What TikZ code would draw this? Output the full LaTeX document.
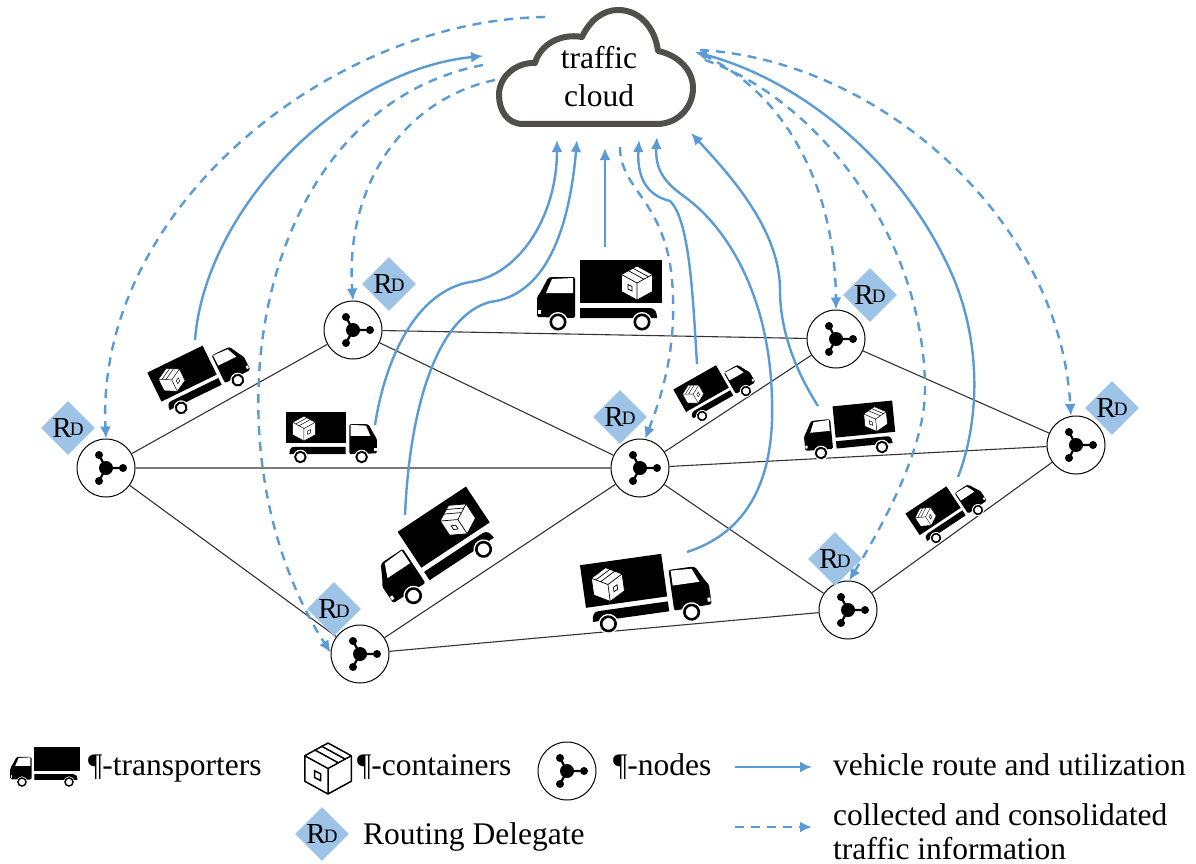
\documentclass[tikz,border=0pt]{standalone}
\usepackage{fontspec}
\setmainfont{Liberation Serif}
\usetikzlibrary{arrows.meta,shapes.geometric}
\definecolor{routeblue}{HTML}{5B9BD5}
\definecolor{rdblue}{HTML}{9DC3E6}
\definecolor{cloudgrey}{HTML}{504F4A}
\definecolor{edgegrey}{HTML}{333333}
\newcommand\boxicon[1]{%
  \filldraw[fill=white,draw=black,line width=#1,line join=round]
    (0,-17)--(15.5,-8.5)--(15.5,8.5)--(0,17)--(-15.5,8.5)--(-15.5,-8.5)--cycle;
  \draw[line width=#1,line join=round] (-15.5,-8.5)--(0,0)--(15.5,-8.5) (0,0)--(0,17)
    (-9,-12.5)--(6.5,-4) (-4.5,-15)--(11,-6.5);
  \draw[line width=#1] (-9,1.5)--(-5,3.5)--(-5,8)--(-9,6)--cycle;
}
\newcommand\lorry[7]{%
  \coordinate (#1) at (#2,#3);
  \begin{scope}[shift={(#2,#3)},rotate=#4,scale=#5,xscale=#6,shift={(-80,-72)}]
    \fill[black] (60,10) rectangle (142,53);
    \fill[black] (60,58)--(130,58)..controls (135,58) and (137,62)..(137,68)--(60,68)--cycle;
    \fill[black,rounded corners=1.5] (17,67)--(17,47)--(20,43)--(28,28)--(31,27)--(55,27)--(55,68)--cycle;
    \fill[white] (26,43)--(32,29)--(53,28)--(53,43)--cycle;
    \fill[white] (17.5,60) rectangle (20.5,64);
    \fill[white] (38,72) circle (10) (122,72) circle (10);
    \filldraw[fill=white,draw=black,line width=2.6pt*#5] (38,72) circle (7.2) (122,72) circle (7.2);
    \begin{scope}[shift={(117,33)}] #7 \end{scope}
  \end{scope}
}
\newcommand\rdlabel{{\fontsize{29}{29}\selectfont R}\kern-2pt\raisebox{1.5pt}{\fontsize{19}{19}\selectfont D}}
\tikzset{
  hubnode/.style={circle,draw=black,fill=white,line width=1pt,minimum size=58pt,inner sep=0pt,
    path picture={\begin{scope}[shift={(path picture bounding box.center)}]
      \draw[black,line width=2.2pt] (-7,-13)--(0,0)--(17,0) (-7,13)--(0,0);
      \fill[black] (0,0) circle (7) (-7,-13) circle (4) (-7,13) circle (4) (17,0) circle (4);
    \end{scope}}},
  rdnode/.style={diamond,aspect=1,fill=rdblue,inner sep=0pt,minimum width=54pt,minimum height=54pt,text=black},
  edgeline/.style={edgegrey,line width=1.1pt},
  route/.style={routeblue,line width=2.4pt,-{Latex[length=12pt,width=11pt]}},
  info/.style={route,dash pattern=on 9pt off 7pt},
  cloudline/.style={cloudgrey,line width=6pt,line join=round},
  txt/.style={inner sep=0pt,anchor=base west,font=\fontsize{31.5}{31.5}\selectfont,text=black},
  cloudtxt/.style={inner sep=0pt,anchor=base,font=\fontsize{31.5}{31.5}\selectfont,text=black},
}
\begin{document}
\begin{tikzpicture}[x=1pt,y=-1pt]
\useasboundingbox (0,0) rectangle (1196,864);
\fill[white] (0,0) rectangle (1196,864);
% nodes
\node[hubnode] (A) at (106,468) {};
\node[hubnode] (B) at (353,330) {};
\node[hubnode] (C) at (836,339) {};
\node[hubnode] (D) at (640,468) {};
\node[hubnode] (E) at (1076,445) {};
\node[hubnode] (F) at (360,654) {};
\node[hubnode] (G) at (848,610) {};
% edges
\draw[edgeline] (A)--(B) (A)--(D) (A)--(F) (B)--(C) (B)--(D) (D)--(C) (D)--(E) (D)--(F) (D)--(G) (C)--(E) (E)--(G) (F)--(G);
% trucks
\lorry{t1}{600}{322}{0}{1}{1}{\boxicon{.7pt}}
\lorry{t2}{209.5}{394}{26}{.75}{-1}{\boxicon{.5pt}}
\lorry{t3}{331}{457}{0}{.73}{-1}{\boxicon{.5pt}}
\lorry{t4}{448.5}{572.5}{33.5}{1}{1}{\boxicon{.7pt}}
\lorry{t5}{650}{618}{8}{1}{-1}{\boxicon{.7pt}}
\lorry{t6}{724}{403.5}{29.6}{.6}{-1}{\boxicon{.4pt}}
\lorry{t7}{851.5}{450}{5.6}{.73}{1}{\boxicon{.5pt}}
\lorry{t8}{957}{524}{33.7}{.6}{-1}{\boxicon{.4pt}}
% cloud
\draw[cloudline,fill=white] (523,124) .. controls (507,124) and (499,110) .. (499,95)
  .. controls (499,75) and (518,62) .. (535,63)
  .. controls (540,45) and (560,33) .. (582,37)
  .. controls (590,20) and (603,10) .. (618,10)
  .. controls (640,10) and (655,28) .. (658,51)
  .. controls (678,55) and (693,70) .. (693,88)
  .. controls (693,108) and (677,124) .. (657,124) -- cycle;
\node[cloudtxt] (cloudA) at (599,69) {traffic};
\node[cloudtxt] (cloudB) at (599,107) {cloud};
% route ends
\coordinate (s1a) at (195,340); \coordinate (s1b) at (483,56);
\coordinate (s2a) at (375,425); \coordinate (s2b) at (557,140);
\coordinate (s3a) at (405,515); \coordinate (s3b) at (577,140);
\coordinate (s4a) at (605,247); \coordinate (s4b) at (605,148);
\coordinate (s5a) at (697,364); \coordinate (s5b) at (639,140);
\coordinate (s6a) at (687,552); \coordinate (s6b) at (657,137);
\coordinate (s7a) at (818,406); \coordinate (s7b) at (691,133);
\coordinate (s8a) at (958,477); \coordinate (s8b) at (695,52);
\draw[route] (s1a) .. controls (205,210) and (340,70) .. (s1b);
\draw[route] (s2a) .. controls (385,360) and (415,292) .. (470,282) .. controls (520,275) and (557,215) .. (s2b);
\draw[route] (s3a) .. controls (410,400) and (440,315) .. (490,302) .. controls (550,295) and (570,220) .. (s3b);
\draw[route] (s4a) -- (s4b);
\draw[route] (s5a) .. controls (693,300) and (690,220) .. (670,201) .. controls (645,195) and (637,175) .. (s5b);
\draw[route] (s6a) .. controls (740,535) and (775,490) .. (772,400) .. controls (770,300) and (730,230) .. (685,197) .. controls (665,183) and (655,170) .. (s6b);
\draw[route] (s7a) .. controls (795,370) and (780,330) .. (780,290) .. controls (780,230) and (730,175) .. (s7b);
\draw[route] (s8a) .. controls (980,420) and (982,340) .. (950,270) .. controls (900,160) and (800,80) .. (s8b);
% information
\coordinate (d1a) at (545,17); \coordinate (d2a) at (483,65); \coordinate (d3a) at (495,80);
\coordinate (d4a) at (620,147); \coordinate (d5a) at (703,55); \coordinate (d6a) at (700,50); \coordinate (d7a) at (705,60);
\draw[info] (d1a) .. controls (330,20) and (95,210) .. (A.north);
\draw[info] (d2a) .. controls (250,110) and (200,450) .. (F.177);
\draw[info] (d3a) .. controls (400,100) and (345,190) .. (B.north);
\draw[info] (d4a) .. controls (620,190) and (665,200) .. (672,280) .. controls (678,350) and (660,400) .. (D.80);
\draw[info] (d5a) .. controls (780,90) and (835,180) .. (C.north);
\draw[info] (d6a) .. controls (880,60) and (1060,220) .. (E.100);
\draw[info] (d7a) .. controls (820,100) and (925,240) .. (925,390) .. controls (925,450) and (880,530) .. (G.88);
% routing delegates
\node[rdnode] (r1) at (68,428) {\rdlabel};
\node[rdnode] (r2) at (389,284) {\rdlabel};
\node[rdnode] (r3) at (870,295) {\rdlabel};
\node[rdnode] (r4) at (620,417) {\rdlabel};
\node[rdnode] (r5) at (1112,408) {\rdlabel};
\node[rdnode] (r6) at (334,609) {\rdlabel};
\node[rdnode] (r7) at (835,559) {\rdlabel};
% legend
\lorry{l1}{45.5}{782}{0}{.56}{1}{}
\node[txt] (l1t) at (88,775) {¶-transporters};
\begin{scope}[shift={(328,768.5)},scale=1.5] \boxicon{1.5pt} \end{scope}
\node[txt] (l2t) at (357,775) {¶-containers};
\node[hubnode] (l3) at (567,771) {};
\node[txt] (l3t) at (613,775) {¶-nodes};
\coordinate (l4a) at (735,767); \coordinate (l4b) at (812,767);
\draw[route] (l4a) -- (l4b);
\node[txt] (l4t) at (833,775) {vehicle route and utilization};
\node[rdnode] (l5) at (322,834) {\rdlabel};
\node[txt] (l5t) at (363,844) {Routing Delegate};
\coordinate (l6a) at (735,827); \coordinate (l6b) at (812,827);
\draw[info] (l6a) -- (l6b);
\node[txt] (l6t) at (833,825) {collected and consolidated};
\node[txt] (l7t) at (833,859) {traffic information};
\end{tikzpicture}
\end{document}
